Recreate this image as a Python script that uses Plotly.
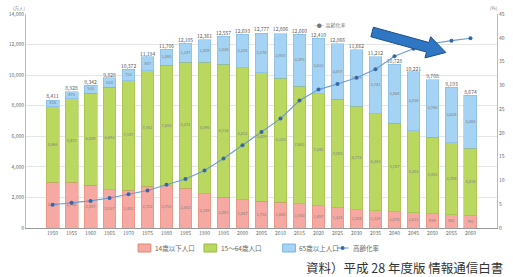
import plotly.graph_objects as go

years = ["1950", "1955", "1960", "1965", "1970", "1975", "1980", "1985", "1990", "1995",
         "2000", "2005", "2010", "2015", "2020", "2025", "2030", "2035", "2040", "2045",
         "2050", "2055", "2060"]
pop_0_14 = [2979, 2980, 2807, 2517, 2482, 2722, 2751, 2603, 2249, 2001, 1847, 1752, 1680,
            1583, 1457, 1324, 1204, 1129, 1073, 1012, 939, 861, 791]
pop_15_64 = [4966, 5473, 6000, 6693, 7157, 7581, 7883, 8251, 8590, 8716, 8622, 8409, 8103,
             7682, 7341, 7085, 6773, 6343, 5787, 5353, 5001, 4706, 4418]
pop_65 = [416, 475, 535, 618, 733, 887, 1065, 1247, 1489, 1826, 2204, 2576, 2925,
          3395, 3612, 3657, 3685, 3741, 3868, 3856, 3768, 3626, 3464]
totals = [8411, 8928, 9342, 9828, 10372, 11194, 11706, 12105, 12361, 12557, 12693, 12777,
          12806, 12660, 12410, 12066, 11662, 11212, 10728, 10221, 9708, 9193, 8674]
aging_rate = [4.9, 5.3, 5.7, 6.3, 7.1, 7.9, 9.1, 10.3, 12.1, 14.6, 17.4, 20.2, 23.0,
              26.8, 29.1, 30.3, 31.6, 33.4, 36.1, 37.7, 38.8, 39.4, 39.9]
legend_names = ["14歳以下人口", "15～64歳人口", "65歳以上人口", "高齢化率"]
left_ticks = [0, 2000, 4000, 6000, 8000, 10000, 12000, 14000]
right_ticks = [0, 5, 10, 15, 20, 25, 30, 35, 40, 45]

W, H = 513, 277
L, R, T, B = 26, 8, 14, 49
PW, PH = W - L - R, H - T - B

def px(x):
    return (x - L) / PW

def py(y):
    return (H - B - y) / PH

FONT = "Noto Sans CJK JP, Noto Sans, sans-serif"
fmt = lambda v: f"{v:,}"

colors = ["#f5a9a2", "#bad760", "#a5d3f3"]
edges = ["#e3876c", "#98b743", "#7db3df"]
line_color, marker_color = "#6a9bd6", "#3a66a8"

fig = go.Figure()
series = [pop_0_14, pop_15_64, pop_65]
for vals, nm, c, e in zip(series, legend_names[:3], colors, edges):
    fig.add_trace(go.Bar(x=years, y=vals, name=nm,
                         marker=dict(color=c, line=dict(color=e, width=0.5))))

# segment value labels at the middle of each stacked segment
base = [0] * len(years)
for vals in series:
    mids = [b + v / 2 for b, v in zip(base, vals)]
    fig.add_trace(go.Scatter(x=years, y=mids, mode="text", text=[fmt(v) for v in vals],
                             textposition="middle center", hoverinfo="skip",
                             textfont=dict(size=4, color="#808080", family=FONT)))
    base = [b + v for b, v in zip(base, vals)]

fig.add_trace(go.Scatter(x=years, y=totals, mode="text", text=[fmt(v) for v in totals],
                         textposition="top center",
                         textfont=dict(size=5, color="#555555", family=FONT)))
fig.add_trace(go.Scatter(x=years, y=aging_rate, name=legend_names[3], yaxis="y2",
                         mode="lines+markers",
                         line=dict(color=line_color, width=1.1),
                         marker=dict(color=marker_color, size=4)))

fig.update_layout(
    width=W, height=H,
    margin=dict(l=L, r=R, t=T, b=B),
    paper_bgcolor="white", plot_bgcolor="white",
    barmode="stack", bargap=0.32,
    showlegend=False,
    font=dict(family=FONT, size=5, color="#666666"),
    xaxis=dict(type="category", tickfont=dict(size=5), showline=True,
               linecolor="#999999", linewidth=1, ticks="", showgrid=False),
    yaxis=dict(range=[0, 14000], tickvals=left_ticks,
               ticktext=[fmt(v) for v in left_ticks], tickfont=dict(size=5),
               showgrid=True, gridcolor="#e6e6e6", gridwidth=1, showline=True,
               linecolor="#bbbbbb", zeroline=False),
    yaxis2=dict(range=[0, 45], tickvals=right_ticks, overlaying="y", side="right",
                showgrid=False, showline=True, linecolor="#bbbbbb",
                tickfont=dict(size=5), zeroline=False),
)

# axis unit captions and notes
fig.add_annotation(text="(万人)", xref="paper", yref="paper", x=px(11), y=py(3),
                   showarrow=False, font=dict(size=4.5, color="#777777"))
fig.add_annotation(text="(%)", xref="paper", yref="paper", x=px(508), y=py(3),
                   showarrow=False, font=dict(size=4.5, color="#777777"))
fig.add_annotation(text="‒●‒ 高齢化率", xref="paper", yref="paper", x=px(352), y=py(19),
                   showarrow=False, font=dict(size=5, color="#777777"))
fig.add_annotation(text="資料）平成 28 年度版 情報通信白書", xref="paper", yref="paper",
                   x=px(513), y=py(267), xanchor="right", yanchor="middle",
                   showarrow=False, font=dict(size=12.5, color="#333333", family=FONT))

# manual legend row
leg_y = 248
box_x = [140, 207, 287]
for bx, nm, c, e in zip(box_x, legend_names[:3], colors, edges):
    fig.add_shape(type="rect", xref="paper", yref="paper",
                  x0=px(bx), x1=px(bx + 13), y0=py(leg_y + 4), y1=py(leg_y - 4),
                  fillcolor=c, line=dict(color=e, width=1))
    fig.add_annotation(text=nm, xref="paper", yref="paper", x=px(bx + 15), y=py(leg_y),
                       xanchor="left", yanchor="middle", showarrow=False,
                       font=dict(size=6.5, color="#666666"))
fig.add_shape(type="line", xref="paper", yref="paper", x0=px(342), x1=px(354),
              y0=py(leg_y), y1=py(leg_y), line=dict(color=line_color, width=1.1))
fig.add_shape(type="circle", xref="paper", yref="paper", x0=px(346), x1=px(350),
              y0=py(leg_y + 2), y1=py(leg_y - 2), fillcolor=marker_color,
              line=dict(width=0))
fig.add_annotation(text=legend_names[3], xref="paper", yref="paper", x=px(357), y=py(leg_y),
                   xanchor="left", yanchor="middle", showarrow=False,
                   font=dict(size=6.5, color="#666666"))

# decorative blue arrow
pts = [(379.3, 27.2), (435.9, 42.5), (437.5, 36.7), (453, 52.5), (431.7, 57.9),
       (433.3, 52.1), (376.7, 36.8)]
path = "M " + " L ".join(f"{px(x):.4f},{py(y):.4f}" for x, y in pts) + " Z"
fig.add_shape(type="path", xref="paper", yref="paper", path=path,
              fillcolor="#2f76c4", line=dict(color="#1d4f86", width=1))

fig.write_html("out.html", config={"displayModeBar": False},
               post_script="document.body.style.margin='0';document.body.style.overflow='hidden';")
